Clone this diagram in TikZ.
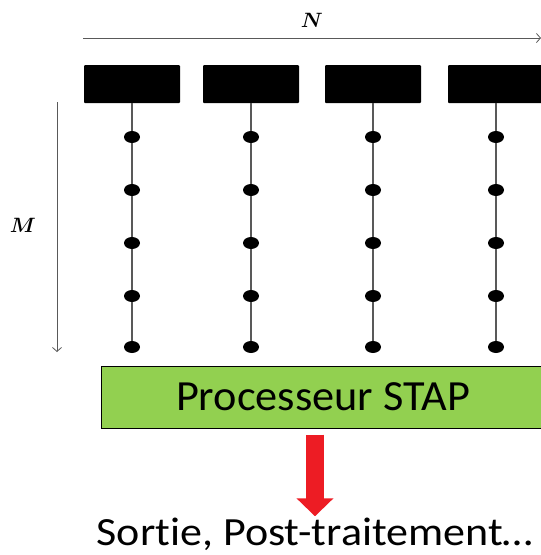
\documentclass[tikz,border=0pt]{standalone}
\usepackage{fontspec}
\setmainfont{Carlito}[Ligatures=NoCommon]
\usepackage{amsmath}
\usepackage{bm}
\usetikzlibrary{arrows.meta, positioning, calc, shapes.geometric}

\definecolor{stapgreen}{HTML}{92D050}
\definecolor{outred}{HTML}{ED1C24}
\definecolor{axisgray}{HTML}{595959}

\begin{document}
\begin{tikzpicture}[
    x=1pt, y=-1pt,
    antenna/.style={rectangle, rounded corners=1pt, minimum width=96pt, minimum height=38pt,
                    fill=black, inner sep=0pt},
    sensor/.style={ellipse, minimum width=16pt, minimum height=12pt, fill=black, inner sep=0pt},
    processor/.style={rectangle, draw=black, line width=1pt, fill=stapgreen, minimum width=444pt,
                      minimum height=62pt, font=\fontsize{43}{50}\selectfont\addfontfeatures{FakeStretch=1.03}},
    outtext/.style={inner sep=0pt, font=\fontsize{40}{48}\selectfont\addfontfeatures{FakeStretch=1.1}},
    dimlabel/.style={font=\fontsize{21}{23}\selectfont},
    axis/.style={draw=axisgray, line width=0.8pt, -{Straight Barb[length=4pt, width=9pt]}},
    link/.style={draw=axisgray, line width=1.2pt},
    outarrow/.style={draw=outred, line width=18pt, -{Triangle[width=36pt, length=18pt]}}
]
\useasboundingbox (0,0) rectangle (541,555);

% axes N and M
\coordinate (nstart) at (83,38);
\coordinate (nend) at (541,38);
\coordinate (mstart) at (57,102);
\coordinate (mend) at (57,352);
\draw[axis] (nstart) -- (nend);
\draw[axis] (mstart) -- (mend);
\node[dimlabel] (nlabel) at (312,20) {$\bm{N}$};
\node[dimlabel] (mlabel) at (23,225) {$\bm{M}$};

% antennas and their sensors
\foreach \i/\x in {1/132, 2/251, 3/373, 4/496} {
    \node[antenna] (ant\i) at (\x,84) {};
    \foreach \j/\y in {1/137, 2/190, 3/243, 4/296, 5/347}
        \node[sensor] (d\i-\j) at (\x,\y) {};
    \draw[link] (ant\i) -- (d\i-1);
    \foreach \j [count=\k from 2] in {1,...,4}
        \draw[link] (d\i-\j) -- (d\i-\k);
}

\node[processor] (proc) at (323,397) {Processeur STAP};
\node[outtext, anchor=base] (out) at (315,545) {Sortie, Post-traitement…};

\draw[outarrow] ([yshift=-6pt]proc.south -| out.north) -- ([yshift=1pt]out.north);

\end{tikzpicture}
\end{document}
